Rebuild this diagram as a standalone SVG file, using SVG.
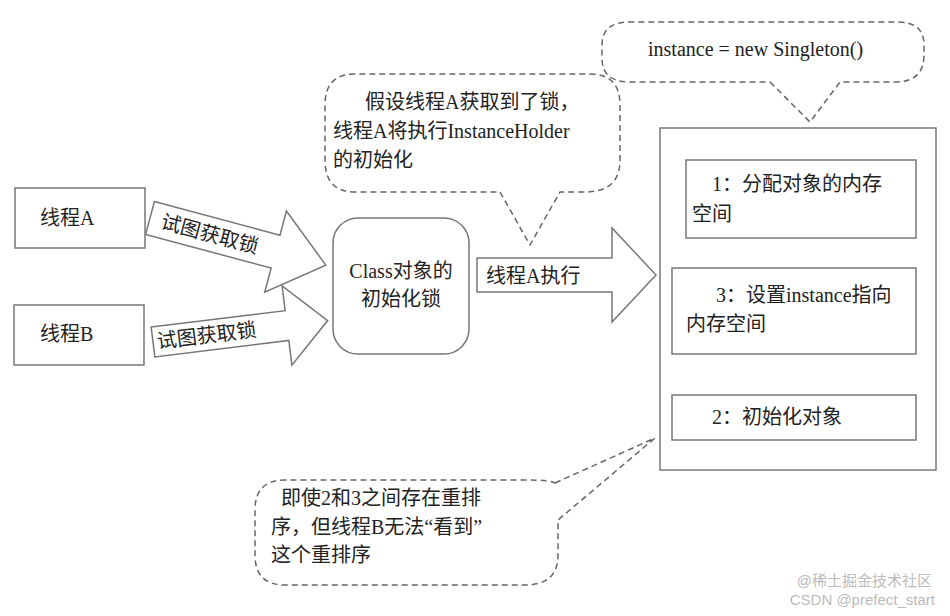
<svg xmlns="http://www.w3.org/2000/svg" width="950" height="616" viewBox="0 0 950 616">
<style>
.b{fill:#fff;stroke:#777;stroke-width:1.5}
.d{fill:none;stroke:#666;stroke-width:1.5;stroke-dasharray:6 4}
.t{font-family:"Liberation Serif","Noto Sans CJK SC",serif;font-size:20px;fill:#222}
.w{font-family:"Liberation Sans","Noto Sans CJK SC",sans-serif;font-size:15px;fill:#bbb}
</style>
<rect width="950" height="616" fill="#fff"/>
<g id="threadA"><rect class="b" x="15" y="188" width="130" height="60"/><text class="t" x="40" y="225">线程A</text></g>
<g id="threadB"><rect class="b" x="14" y="305" width="130" height="60"/><text class="t" x="40" y="341">线程B</text></g>
<g id="lock"><rect class="b" x="333" y="218" width="136" height="136" rx="25"/><text class="t" x="401" y="278" text-anchor="middle">Class对象的</text><text class="t" x="401" y="306" text-anchor="middle">初始化锁</text></g>
<g id="connectors">
<g transform="translate(150,218) rotate(15)"><polygon class="b" points="0,-17 130,-17 130,-42 182,0 130,42 130,17 0,17"/><text class="t" x="12" y="7">试图获取锁</text></g>
<g transform="translate(153,342) rotate(-7)"><polygon class="b" points="0,-15 135,-15 135,-40 176,0 135,40 135,15 0,15"/><text class="t" x="4" y="7">试图获取锁</text></g>
<polygon class="b" points="477,258 612,258 612,228 656,275 612,322 612,292 477,292"/><text class="t" x="486" y="283">线程A执行</text>
</g>
<g id="memory">
<rect class="b" x="660" y="128" width="276" height="342"/>
<rect class="b" x="686" y="160" width="230" height="78"/><text class="t" x="712" y="191">1：分配对象的内存</text><text class="t" x="692" y="221">空间</text>
<rect class="b" x="672" y="268" width="244" height="86"/><text class="t" x="716" y="302">3：设置instance指向</text><text class="t" x="686" y="331">内存空间</text>
<rect class="b" x="672" y="395" width="244" height="45"/><text class="t" x="712" y="424">2：初始化对象</text>
</g>
<g id="bubbleTop">
<path class="d" d="M770,82 L810,122 L840,82 L895,82 Q924,82 924,55 L924,45 Q924,22 898,22 L630,22 Q602,22 602,45 L602,58 Q602,82 630,82 Z"/>
<text class="t" x="648" y="56">instance = new Singleton()</text>
</g>
<g id="bubbleMid">
<path class="d" d="M500,192 L530,245 L560,192 L585,192 Q620,192 620,160 L620,105 Q620,74 590,74 L355,74 Q325,74 325,105 L325,160 Q325,192 355,192 Z"/>
<text class="t" x="365" y="109">假设线程A获取到了锁，</text><text class="t" x="333" y="138">线程A将执行InstanceHolder</text><text class="t" x="333" y="167">的初始化</text>
</g>
<g id="bubbleBot">
<path class="d" d="M555,483 L655,438 L558,520 L558,555 Q558,585 525,585 L285,585 Q255,585 255,555 L255,510 Q255,480 285,480 L525,480 Q552,480 555,483 Z"/>
<text class="t" x="281" y="505">即使2和3之间存在重排</text><text class="t" x="271" y="534">序，但线程B无法“看到”</text><text class="t" x="271" y="562">这个重排序</text>
</g>
<text class="w" x="932" y="586" text-anchor="end">@稀土掘金技术社区</text>
<text class="w" x="935" y="605" text-anchor="end">CSDN @prefect_start</text>
</svg>
